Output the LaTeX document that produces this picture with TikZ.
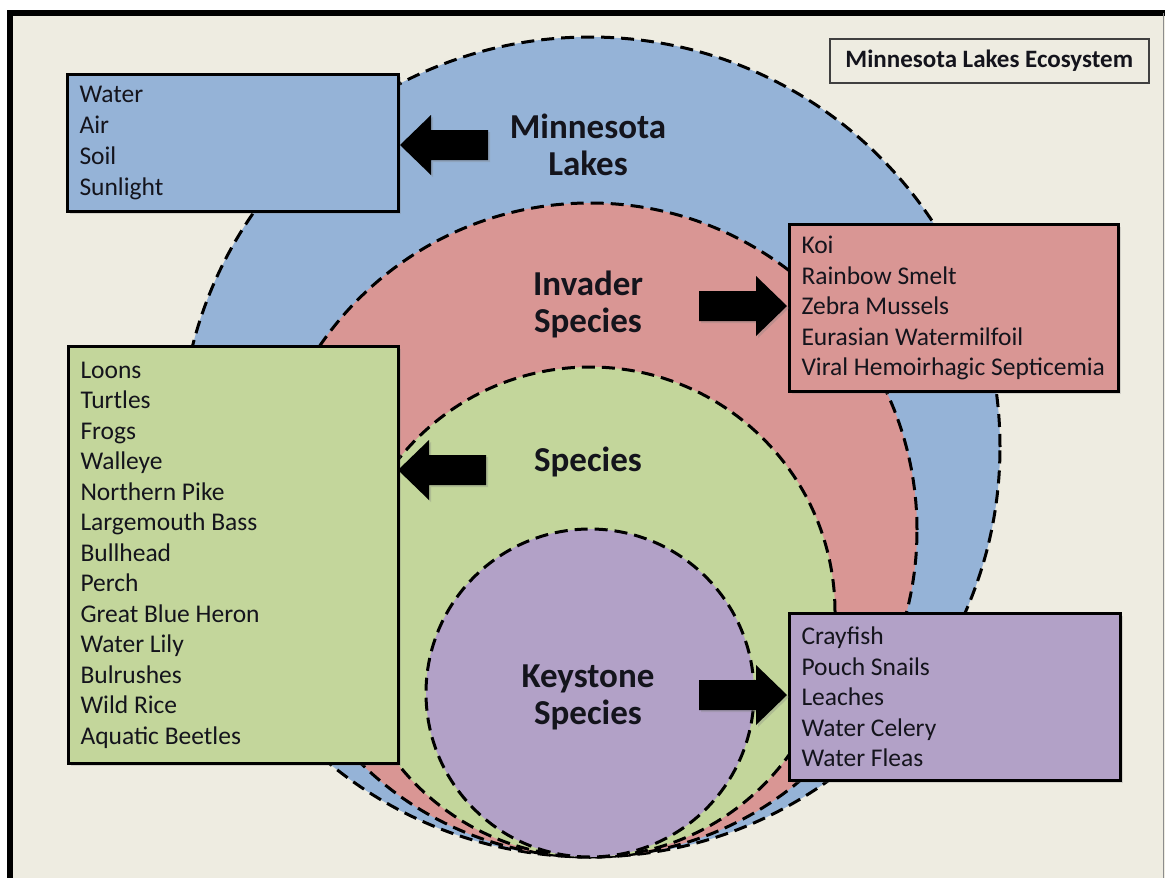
\documentclass[tikz,border=0pt]{standalone}
\usepackage{fontspec}
\setmainfont{Carlito}
\usetikzlibrary{shadows}
\definecolor{bg}{RGB}{238,236,225}
\definecolor{lakeblue}{RGB}{149,179,215}
\definecolor{invred}{RGB}{217,150,148}
\definecolor{spgreen}{RGB}{195,214,155}
\definecolor{keypurple}{RGB}{178,161,199}
\definecolor{txt}{RGB}{20,20,28}
\tikzset{
  ring/.style={circle, draw=black, line width=3pt, dash pattern=on 13pt off 7pt, inner sep=0pt},
  listbox/.style={draw=black, line width=3pt, anchor=north west, inner xsep=12pt, inner ysep=0pt,
    align=flush left, font=\fontsize{25.5}{30.5}\selectfont, text=txt,
    drop shadow={opacity=0.25, shadow xshift=2pt, shadow yshift=-2pt}},
  lbl/.style={align=center, font=\bfseries\fontsize{35}{37}\selectfont, text=txt},
  blockarrow/.pic={\fill[black, drop shadow={opacity=0.3, shadow xshift=2pt, shadow yshift=-2pt}]
    (0,0) -- (-31,-30) -- (-31,-15) -- (-88,-15) -- (-88,15) -- (-31,15) -- (-31,30) -- cycle;}
}
\begin{document}
\begin{tikzpicture}[x=1pt, y=-1pt]
\useasboundingbox (0,0) rectangle (1165,878);
% page and frame
\fill[white] (0,0) rectangle (1165,878);
\fill[bg] (10,13) rectangle (1165,878);
\draw[line width=6pt] (10,881) -- (10,13) -- (1166,13);
\draw[black!45, line width=1pt] (1163,13) -- (1163,878);
% nested rings
\node[ring, fill=lakeblue, minimum size=820pt] (lakes) at (590,447) {};
\node[ring, fill=invred, minimum size=654pt] (invader) at (590,530) {};
\node[ring, fill=spgreen, minimum size=490pt] (species) at (590,612) {};
\node[ring, fill=keypurple, minimum size=328pt] (keystone) at (590,693) {};
% ring labels
\node[lbl] (llakes) at (588,145) {Minnesota\\Lakes};
\node[lbl] (linv) at (588,304) {Invader\\Species};
\node[lbl] (lsp) at (588,462) {Species};
\node[lbl] (lkey) at (588,697) {Keystone\\Species};
% title
\node[draw=black!75, line width=1.5pt, fill=bg, minimum width=319pt, minimum height=44pt, anchor=north west,
  font=\bfseries\fontsize{25}{28}\selectfont, text=txt] (title) at (829,38) {Minnesota Lakes Ecosystem};
% list boxes
\node[listbox, fill=lakeblue, text width=307pt, minimum width=331pt, minimum height=137pt,
  font=\fontsize{25.5}{31}\selectfont] (abiotic) at (66,73)
  {Water\\Air\\Soil\\Sunlight};
\node[listbox, fill=invred, text width=305pt, minimum width=329pt, minimum height=167pt] (invlist) at (788,223)
  {Koi\\Rainbow Smelt\\Zebra Mussels\\Eurasian Watermilfoil\\Viral Hemoirhagic Septicemia};
\node[listbox, fill=spgreen, text width=306pt, minimum width=330pt, minimum height=417pt] (splist) at (67,345)
  {Loons\\Turtles\\Frogs\\Walleye\\Northern Pike\\Largemouth Bass\\Bullhead\\Perch\\Great Blue Heron\\Water Lily\\Bulrushes\\Wild Rice\\Aquatic Beetles};
\node[listbox, fill=keypurple, text width=307pt, minimum width=331pt, minimum height=167pt] (keylist) at (788,612)
  {Crayfish\\Pouch Snails\\Leaches\\Water Celery\\Water Fleas};
% block arrows
\pic[rotate=180] (a1) at (400,145) {blockarrow};
\pic (a2) at (787,306) {blockarrow};
\pic[rotate=180] (a3) at (398,470) {blockarrow};
\pic (a4) at (787,695) {blockarrow};
\end{tikzpicture}
\end{document}
